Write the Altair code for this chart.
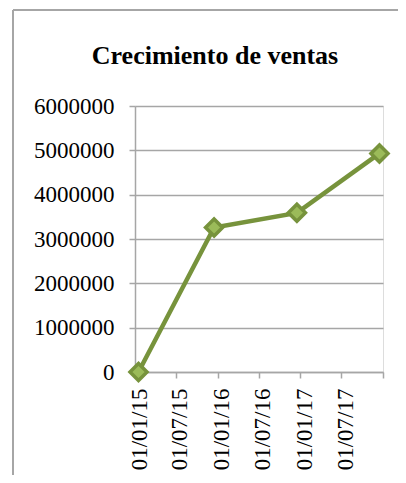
import altair as alt
import pandas as pd

# Data
fechas = ["2015-01-01", "2015-12-01", "2016-12-01", "2017-12-01"]
ventas = [0, 3260000, 3590000, 4930000]

y_ticks = [0, 1000000, 2000000, 3000000, 4000000, 5000000, 6000000]
x_tick_dates = [(2015, 1), (2015, 7), (2016, 1), (2016, 7), (2017, 1), (2017, 7), (2018, 1)]
titulo = "Crecimiento de ventas"

df = pd.DataFrame({"fecha": fechas, "ventas": ventas})

FONT = "Liberation Serif"
GRAY = "#A6A6A6"
LINE = "#77933C"
FILL = "#9BBB59"

x_values = [alt.DateTime(year=y, month=m, date=1, utc=True) for y, m in x_tick_dates]

x_enc = alt.X(
    "utcyearmonth(fecha):T",
    bandPosition=0.5,
    scale=alt.Scale(domain=[alt.DateTime(year=2015, month=1, date=1, utc=True),
                            alt.DateTime(year=2018, month=1, date=1, utc=True)]),
    axis=alt.Axis(
        values=x_values,
        labelExpr="utcyear(datum.value) >= 2018 ? '' : utcFormat(datum.value, '%d/%m/%y')",
        labelAngle=270,
        labelOffset=4,
        labelPadding=10,
        labelFont=FONT,
        labelFontSize=23,
        labelColor="#000000",
        tickSize=6,
        tickColor=GRAY,
        tickWidth=1.5,
        domainColor=GRAY,
        domainWidth=1.5,
        grid=False,
        title=None,
        labelFlush=False,
        labelOverlap=False,
    ),
)

y_enc = alt.Y(
    "ventas:Q",
    scale=alt.Scale(domain=[0, 6000000], nice=False),
    axis=alt.Axis(
        values=y_ticks,
        format="d",
        labelFont=FONT,
        labelFontSize=23,
        labelColor="#000000",
        labelPadding=15,
        tickSize=6,
        tickColor=GRAY,
        tickWidth=1.5,
        domainColor=GRAY,
        domainWidth=1.5,
        grid=True,
        gridColor=GRAY,
        gridWidth=1.5,
        title=None,
    ),
)

line = alt.Chart(df).mark_line(color=LINE, strokeWidth=4.5).encode(x=x_enc, y=y_enc)
points = alt.Chart(df).mark_point(
    shape="diamond", size=290, filled=True, fill=FILL, stroke=LINE, strokeWidth=3.5, opacity=1
).encode(x=x_enc, y=y_enc)

frame_data = alt.Data(values=[{"t": titulo}])
frame_left = alt.Chart(frame_data).mark_rule(color=GRAY, strokeWidth=2).encode(
    x=alt.value(-122), y=alt.value(-96), y2=alt.value(380)
)
frame_top = alt.Chart(frame_data).mark_rule(color=GRAY, strokeWidth=2).encode(
    x=alt.value(-122), x2=alt.value(270), y=alt.value(-96)
)
title_text = alt.Chart(frame_data).mark_text(
    font=FONT, fontSize=26, fontWeight="bold", color="#000000",
    align="center", baseline="alphabetic"
).encode(text="t:N", x=alt.value(80), y=alt.value(-42))

chart = alt.layer(frame_left, frame_top, line, points, title_text).properties(
    width=248,
    height=266,
    autosize=alt.AutoSizeParams(type="none"),
    padding={"left": 127, "top": 98, "right": 15, "bottom": 103},
).configure_view(stroke=None).configure(background="#FFFFFF")

chart.save("out.html", embed_options={"renderer": "svg", "actions": False})
